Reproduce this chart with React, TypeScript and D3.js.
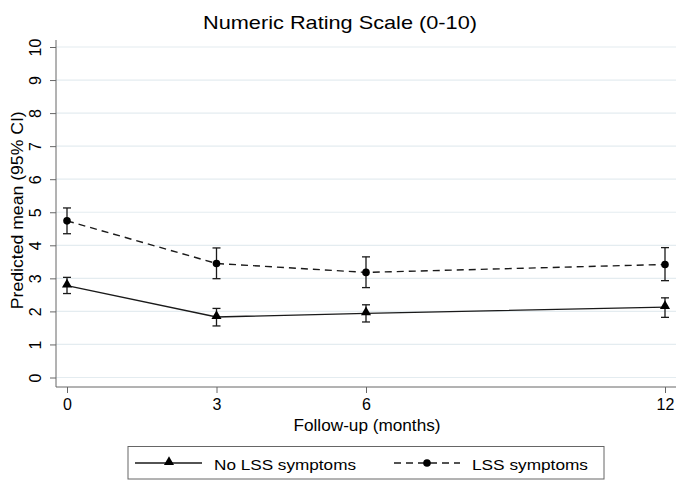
import React, { useEffect, useRef } from 'react';
import * as d3 from 'd3';

const months = [0, 3, 6, 12];
const yTicks = [0, 1, 2, 3, 4, 5, 6, 7, 8, 9, 10];

// No LSS symptoms
const noLssMean = [2.78, 1.83, 1.94, 2.13];
const noLssLow = [2.54, 1.56, 1.68, 1.82];
const noLssHigh = [3.03, 2.09, 2.2, 2.41];

// LSS symptoms
const lssMean = [4.74, 3.45, 3.18, 3.42];
const lssLow = [4.35, 2.99, 2.72, 2.93];
const lssHigh = [5.13, 3.92, 3.65, 3.93];

const FONT = '"Liberation Sans", Arial, Helvetica, sans-serif';

const App = () => {
  const chartRef = useRef(null);

  useEffect(() => {
    const width = 685;
    const height = 487;

    const svg = d3.select(chartRef.current)
      .append('svg')
      .attr('width', width)
      .attr('height', height)
      .style('display', 'block')
      .style('font-family', FONT);

    svg.append('rect').attr('width', width).attr('height', height).attr('fill', '#fff');

    const x = d3.scaleLinear().domain([0, 12]).range([67, 665]);
    const y = d3.scaleLinear().domain([0, 10]).range([377.5, 47]);
    const axisX = 56;
    const axisY = 387;
    const plotRight = 676;

    // the original font is a bit wider than Liberation Sans, so stretch labels to its width
    const stretched = (sel, len) => sel.attr('textLength', len).attr('lengthAdjust', 'spacingAndGlyphs');

    // gridlines
    svg.append('g')
      .selectAll('line')
      .data(yTicks)
      .enter()
      .append('line')
      .attr('x1', axisX)
      .attr('x2', plotRight)
      .attr('y1', (d) => y(d))
      .attr('y2', (d) => y(d))
      .attr('stroke', '#e4ecf0')
      .attr('stroke-width', 1.2);

    // y axis
    const yAxis = svg.append('g')
      .attr('transform', `translate(${axisX},0)`)
      .call(d3.axisLeft(y).tickValues(yTicks).tickSize(6).tickSizeOuter(0).tickFormat(d3.format('d')));
    yAxis.select('.domain').attr('d', `M0,${y(10) - 7}V${axisY}`).attr('stroke', '#666');
    yAxis.selectAll('.tick line').attr('stroke', '#666');
    yAxis.selectAll('.tick text')
      .attr('font-size', 16)
      .attr('font-family', FONT)
      .attr('fill', '#000')
      .attr('text-anchor', 'middle')
      .attr('transform', 'translate(-21,0) rotate(-90)')
      .attr('x', 0)
      .attr('y', 0)
      .attr('dy', '0.35em');

    // x axis
    const xAxis = svg.append('g')
      .attr('transform', `translate(0,${axisY})`)
      .call(d3.axisBottom(x).tickValues(months).tickSize(6).tickSizeOuter(0).tickFormat(d3.format('d')));
    xAxis.select('.domain').attr('d', `M${axisX},0H${plotRight}`).attr('stroke', '#666');
    xAxis.selectAll('.tick line').attr('stroke', '#666');
    xAxis.selectAll('.tick text')
      .attr('font-size', 16)
      .attr('font-family', FONT)
      .attr('fill', '#000')
      .attr('y', 12);

    // labels
    stretched(svg.append('text')
      .attr('x', 340)
      .attr('y', 29)
      .attr('text-anchor', 'middle')
      .attr('font-size', 18.5)
      .text('Numeric Rating Scale (0-10)'), 274);

    stretched(svg.append('text')
      .attr('x', 367)
      .attr('y', 431)
      .attr('text-anchor', 'middle')
      .attr('font-size', 16)
      .text('Follow-up (months)'), 147);

    stretched(svg.append('text')
      .attr('transform', `translate(23,${y(5) - 2}) rotate(-90)`)
      .attr('text-anchor', 'middle')
      .attr('font-size', 16)
      .text('Predicted mean (95% CI)'), 198);

    const series = [
      { name: 'No LSS symptoms', mean: noLssMean, low: noLssLow, high: noLssHigh, dash: null, marker: 'triangle' },
      { name: 'LSS symptoms', mean: lssMean, low: lssLow, high: lssHigh, dash: '7,5', marker: 'circle' },
    ];

    const line = d3.line().x((d) => x(d[0])).y((d) => y(d[1]));
    const tri = d3.symbol().type(d3.symbolTriangle).size(44);

    series.forEach((s) => {
      const pts = months.map((m, i) => [m, s.mean[i]]);
      svg.append('path')
        .attr('d', line(pts))
        .attr('fill', 'none')
        .attr('stroke', '#1a1a1a')
        .attr('stroke-width', 1.4)
        .attr('stroke-dasharray', s.dash);

      const eb = svg.append('g').attr('stroke', '#1a1a1a').attr('stroke-width', 1.3);
      months.forEach((m, i) => {
        const cx = x(m);
        eb.append('line').attr('x1', cx).attr('x2', cx).attr('y1', y(s.low[i])).attr('y2', y(s.high[i]));
        eb.append('line').attr('x1', cx - 4).attr('x2', cx + 4).attr('y1', y(s.low[i])).attr('y2', y(s.low[i]));
        eb.append('line').attr('x1', cx - 4).attr('x2', cx + 4).attr('y1', y(s.high[i])).attr('y2', y(s.high[i]));
      });

      months.forEach((m, i) => {
        if (s.marker === 'circle') {
          svg.append('circle').attr('cx', x(m)).attr('cy', y(s.mean[i])).attr('r', 3.8).attr('fill', '#000');
        } else {
          svg.append('path')
            .attr('d', tri())
            .attr('transform', `translate(${x(m)},${y(s.mean[i]) - 1})`)
            .attr('fill', '#000');
        }
      });
    });

    // legend
    const lg = svg.append('g');
    lg.append('rect')
      .attr('x', 128)
      .attr('y', 446.5)
      .attr('width', 476)
      .attr('height', 32.5)
      .attr('fill', '#fff')
      .attr('stroke', '#666')
      .attr('stroke-width', 1);
    const ly = 463;
    lg.append('line').attr('x1', 135).attr('x2', 202).attr('y1', ly).attr('y2', ly)
      .attr('stroke', '#1a1a1a').attr('stroke-width', 1.4);
    lg.append('path').attr('d', tri()).attr('transform', `translate(169,${ly - 1})`).attr('fill', '#000');
    stretched(lg.append('text').attr('x', 214).attr('y', 469.5).attr('font-size', 15.5).text(series[0].name), 142);
    lg.append('line').attr('x1', 394).attr('x2', 460).attr('y1', ly).attr('y2', ly)
      .attr('stroke', '#1a1a1a').attr('stroke-width', 1.4).attr('stroke-dasharray', '7,5');
    lg.append('circle').attr('cx', 427).attr('cy', ly).attr('r', 3.8).attr('fill', '#000');
    stretched(lg.append('text').attr('x', 472).attr('y', 469.5).attr('font-size', 15.5).text(series[1].name), 116);

    return () => {
      d3.select(chartRef.current).selectAll('svg').remove();
    };
  }, []);

  return <div ref={chartRef} style={{ position: 'absolute', left: 0, top: 0 }} />;
};

export default App;
